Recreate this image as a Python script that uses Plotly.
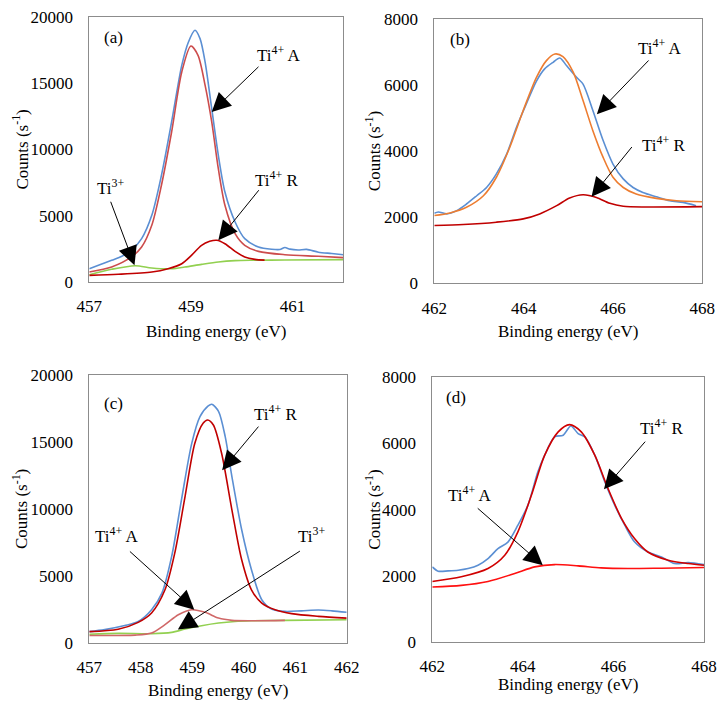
import plotly.graph_objects as go

# ---------------- Panel (a): Ti 2p3/2 region ----------------
a_meas_x = [457.00, 457.18, 457.44, 457.64, 457.83, 458.03, 458.23, 458.42, 458.62, 458.82, 458.95, 459.08,
            459.18, 459.28, 459.41, 459.54, 459.67, 459.87, 460.06, 460.33, 460.59, 460.75, 460.85, 460.95,
            461.11, 461.28, 461.51, 461.77, 462.00]
a_meas_y = [1000, 1260, 1640, 1940, 2390, 3270, 5030, 8050, 12080, 16350, 18100, 19000,
            18370, 16600, 13080, 9560, 6790, 4530, 3270, 2640, 2470, 2450, 2600, 2480,
            2420, 2460, 2250, 2150, 2060]
a_ti4a_x = [457.00, 457.44, 457.83, 458.03, 458.23, 458.42, 458.62, 458.82, 459.00, 459.14, 459.28, 459.41,
            459.54, 459.67, 459.87, 460.06, 460.33, 460.85, 461.51, 462.00]
a_ti4a_y = [750, 1130, 1890, 2640, 4280, 7300, 11320, 15850, 17810, 17110, 14840, 12080,
            8550, 5790, 3650, 2770, 2310, 2060, 1940, 1840]
a_ti4r_x = [457.00, 457.57, 458.23, 458.55, 458.82, 459.01, 459.21, 459.37, 459.51, 459.67, 459.87, 460.06,
            460.26, 460.45]
a_ti4r_y = [500, 580, 750, 1000, 1380, 2010, 2770, 3070, 3150, 2890, 2310, 1890, 1710, 1650]
a_ti3_x = [457.00, 457.44, 457.90, 458.23, 458.62, 458.88, 459.21, 459.54, 459.87, 460.19, 460.85, 462.00]
a_ti3_y = [550, 960, 1230, 1060, 1000, 1130, 1330, 1510, 1610, 1640, 1660, 1690]

# ---------------- Panel (b): Ti 2p1/2 region ----------------
b_meas_x = [462.00, 462.09, 462.28, 462.50, 462.72, 462.95, 463.17, 463.39, 463.62, 463.84, 464.06, 464.29,
            464.47, 464.66, 464.81, 464.96, 465.18, 465.33, 465.55, 465.78, 466.00, 466.23, 466.45, 466.67,
            466.97, 467.27, 467.57, 467.86]
b_meas_y = [2120, 2160, 2100, 2200, 2400, 2650, 2900, 3310, 3910, 4720, 5430, 6130,
            6490, 6690, 6820, 6590, 6240, 6030, 5230, 4320, 3610, 3160, 2900, 2750,
            2620, 2500, 2450, 2350]
b_ti4a_x = [462.00, 462.35, 462.72, 463.10, 463.39, 463.69, 463.99, 464.29, 464.51, 464.70, 464.88, 465.11,
            465.33, 465.55, 465.78, 466.00, 466.23, 466.52, 466.97, 467.42, 468.00]
b_ti4a_y = [2050, 2130, 2300, 2650, 3210, 4120, 5230, 6240, 6740, 6940, 6860, 6390,
            5530, 4620, 3810, 3210, 2900, 2700, 2570, 2500, 2470]
b_ti4r_x = [462.00, 462.65, 463.39, 463.99, 464.36, 464.74, 465.03, 465.33, 465.63, 465.93, 466.23, 466.75, 468.00]
b_ti4r_y = [1750, 1780, 1850, 1950, 2100, 2350, 2580, 2680, 2600, 2420, 2330, 2310, 2320]

# ---------------- Panel (c): Ti 2p3/2 region ----------------
c_meas_x = [457.00, 457.30, 457.69, 457.95, 458.21, 458.41, 458.60, 458.79, 458.99, 459.15, 459.31, 459.38,
            459.51, 459.64, 459.77, 459.96, 460.15, 460.35, 460.54, 460.80, 461.12, 461.45, 461.71, 462.00]
c_meas_y = [850, 1000, 1300, 1600, 2480, 3720, 6460, 10680, 14900, 16890, 17690, 17820,
            17290, 15400, 12420, 8450, 5470, 3230, 2530, 2360, 2400, 2460, 2400, 2290]
c_ti4r_x = [457.00, 457.56, 457.95, 458.21, 458.47, 458.66, 458.86, 459.05, 459.21, 459.30, 459.41, 459.57,
            459.77, 459.96, 460.15, 460.35, 460.61, 460.93, 461.45, 462.00]
c_ti4r_y = [850, 1030, 1540, 2240, 3970, 6710, 10930, 14900, 16400, 16640, 16270, 14160,
            9940, 6210, 3970, 2980, 2480, 2190, 1990, 1860]
c_ti4a_x = [457.00, 457.89, 458.21, 458.47, 458.73, 458.99, 459.25, 459.51, 459.77, 460.15, 460.80]
c_ti4a_y = [560, 590, 750, 1370, 2110, 2480, 2290, 1860, 1690, 1660, 1690]
c_ti3_x = [457.00, 457.56, 458.21, 458.60, 458.86, 459.18, 459.51, 459.83, 460.15, 460.80, 462.00]
c_ti3_y = [650, 720, 690, 790, 1040, 1290, 1490, 1610, 1660, 1690, 1740]

# ---------------- Panel (d): Ti 2p1/2 region ----------------
d_meas_x = [462.00, 462.13, 462.35, 462.57, 462.79, 463.01, 463.23, 463.45, 463.67, 463.89, 464.11, 464.33,
            464.48, 464.70, 464.89, 465.06, 465.22, 465.37, 465.59, 465.81, 466.03, 466.25, 466.47, 466.76,
            467.06, 467.35, 467.65, 468.00]
d_meas_y = [2270, 2140, 2150, 2170, 2220, 2320, 2520, 2820, 3020, 3530, 4130, 5140,
            5640, 6200, 6250, 6530, 6300, 6200, 5640, 4840, 4130, 3530, 3020, 2720,
            2570, 2370, 2400, 2340]
d_ti4r_x = [462.00, 462.64, 463.23, 463.60, 463.89, 464.19, 464.48, 464.78, 465.03, 465.29, 465.59, 465.88,
            466.18, 466.47, 466.76, 467.21, 467.65, 468.00]
d_ti4r_y = [1830, 1970, 2220, 2620, 3330, 4440, 5640, 6350, 6570, 6350, 5640, 4640,
            3730, 3120, 2720, 2470, 2370, 2320]
d_ti4a_x = [462.00, 462.64, 463.23, 463.82, 464.26, 464.70, 465.22, 465.73, 466.32, 467.06, 468.00]
d_ti4a_y = [1660, 1710, 1830, 2070, 2270, 2340, 2300, 2240, 2220, 2230, 2250]

# ---------------- styling ----------------
BLUE = "#5B8FD3"
ORANGE = "#ED7D31"
LIGHTRED = "#CC4C4C"
DARKRED = "#C00000"
GREEN = "#92D050"
PINK = "#D06868"
BRIGHTRED = "#FF1010"
FONT = "Liberation Serif, 'Times New Roman', Times, 'DejaVu Serif', serif"

fig = go.Figure()

def add(x, y, color, xa, ya, width=1.6):
    fig.add_trace(go.Scatter(x=x, y=y, mode="lines", line=dict(color=color, width=width, shape="spline", smoothing=0.8),
                             xaxis=xa, yaxis=ya, showlegend=False, hoverinfo="skip"))

# (a)
add(a_ti3_x, a_ti3_y, GREEN, "x", "y")
add(a_ti4r_x, a_ti4r_y, DARKRED, "x", "y")
add(a_meas_x, a_meas_y, BLUE, "x", "y")
add(a_ti4a_x, a_ti4a_y, LIGHTRED, "x", "y")
# (b)
add(b_meas_x, b_meas_y, BLUE, "x2", "y2")
add(b_ti4a_x, b_ti4a_y, ORANGE, "x2", "y2")
add(b_ti4r_x, b_ti4r_y, DARKRED, "x2", "y2")
# (c)
add(c_ti3_x, c_ti3_y, GREEN, "x3", "y3")
add(c_ti4a_x, c_ti4a_y, PINK, "x3", "y3")
add(c_meas_x, c_meas_y, BLUE, "x3", "y3")
add(c_ti4r_x, c_ti4r_y, DARKRED, "x3", "y3")
# (d)
add(d_meas_x, d_meas_y, BLUE, "x4", "y4")
add(d_ti4a_x, d_ti4a_y, BRIGHTRED, "x4", "y4")
add(d_ti4r_x, d_ti4r_y, "#D00000", "x4", "y4")

OFF = 8  # page body margin
W, H = 726 - OFF, 709 - OFF
# plot-area pixel boxes in window coords (left, right, top, bottom)
boxes = {
    1: (89.3, 343.3, 17, 282),
    2: (434.3, 702.3, 19, 283.3),
    3: (89.3, 346.7, 375, 643),
    4: (432.3, 704, 377.3, 642),
}
xr = {1: ([457, 462], 2), 2: ([462, 468], 2), 3: ([457, 462], 1), 4: ([462, 468], 2)}
yr = {1: ([0, 20000], 5000), 2: ([0, 8000], 2000), 3: ([0, 20000], 5000), 4: ([0, 8000], 2000)}

def px(v):
    return (v - OFF) / W

def py(v):
    return 1 - (v - OFF) / H

axfont = dict(family=FONT, size=17, color="black")
layout = dict(width=W, height=H, margin=dict(l=0, r=0, t=0, b=0, pad=0, autoexpand=False),
              plot_bgcolor="white", paper_bgcolor="white", font=axfont, showlegend=False)
for i, (l, r, t, b) in boxes.items():
    sfx = "" if i == 1 else str(i)
    layout["xaxis" + sfx] = dict(domain=[px(l), px(r)], anchor="y" + sfx, range=xr[i][0], tick0=xr[i][0][0],
                                 dtick=xr[i][1], showgrid=False, zeroline=False, showline=True, mirror=True,
                                 linecolor="#8C8C8C", linewidth=1, ticks="", ticklabelstandoff=9,
                                 tickfont=axfont, tickformat="d", automargin=False, ticklabeloverflow="allow")
    layout["yaxis" + sfx] = dict(domain=[py(b), py(t)], anchor="x" + sfx, range=yr[i][0], tick0=0,
                                 dtick=yr[i][1], showgrid=False, zeroline=False, showline=True, mirror=True,
                                 linecolor="#8C8C8C", linewidth=1, ticks="", ticklabelstandoff=12,
                                 tickfont=axfont, tickformat="d", automargin=False, ticklabeloverflow="allow")
fig.update_layout(**layout)

anns = []
# axis titles (paper coordinates)
xtitle_y = {1: 331.7, 2: 331.7, 3: 690, 4: 684}
ytitle_x = {1: 20, 2: 373, 3: 20, 4: 373}
for i, (l, r, t, b) in boxes.items():
    anns.append(dict(xref="paper", yref="paper", x=px((l + r) / 2), y=py(xtitle_y[i]),
                     text="Binding energy (eV)", showarrow=False, font=dict(family=FONT, size=17, color="black"),
                     xanchor="center", yanchor="middle"))
    anns.append(dict(xref="paper", yref="paper", x=px(ytitle_x[i]), y=py((t + b) / 2),
                     text="Counts (s<sup>-1</sup>)", showarrow=False, textangle=-90,
                     font=dict(family=FONT, size=17, color="black"), xanchor="center", yanchor="middle"))

labels = [
    # (axis suffix, text, x, y)
    ("", "(a)", 457.47, 18490),
    ("2", "(b)", 462.58, 7390),
    ("3", "(c)", 457.47, 17890),
    ("4", "(d)", 462.53, 7400),
    ("", "Ti<sup>4+</sup> A", 460.73, 17200),
    ("", "Ti<sup>4+</sup> R", 460.69, 7800),
    ("", "Ti<sup>3+</sup>", 457.41, 7200),
    ("2", "Ti<sup>4+</sup> A", 467.05, 7140),
    ("2", "Ti<sup>4+</sup> R", 467.13, 4220),
    ("3", "Ti<sup>4+</sup> R", 460.61, 17140),
    ("3", "Ti<sup>4+</sup> A", 457.53, 8050),
    ("3", "Ti<sup>3+</sup>", 461.32, 8050),
    ("4", "Ti<sup>4+</sup> R", 467.06, 6500),
    ("4", "Ti<sup>4+</sup> A", 462.83, 4480),
]
for sfx, txt, x, y in labels:
    anns.append(dict(xref="x" + sfx, yref="y" + sfx, x=x, y=y, text=txt, showarrow=False,
                     font=dict(family=FONT, size=17, color="black"), xanchor="center", yanchor="middle"))

arrows = [
    # (axis suffix, head x, head y, tail x, tail y)
    ("", 459.41, 12830, 460.36, 16350),
    ("", 459.54, 3150, 460.36, 7040),
    ("", 457.89, 1260, 457.41, 6170),
    ("2", 465.64, 5120, 466.83, 6790),
    ("2", 465.52, 2620, 466.45, 4170),
    ("3", 459.58, 12900, 460.31, 16260),
    ("3", 459.04, 2490, 457.76, 6930),
    ("3", 458.72, 1000, 461.12, 6930),
    ("4", 465.79, 4620, 466.73, 6100),
    ("4", 464.44, 2320, 462.97, 4080),
]
for sfx, hx, hy, tx, ty in arrows:
    anns.append(dict(xref="x" + sfx, yref="y" + sfx, axref="x" + sfx, ayref="y" + sfx,
                     x=hx, y=hy, ax=tx, ay=ty, text="", showarrow=True, arrowhead=2, arrowsize=3.8,
                     arrowwidth=1, arrowcolor="black", standoff=0, startstandoff=0))
fig.update_layout(annotations=anns)

fig.write_html("out.html")
